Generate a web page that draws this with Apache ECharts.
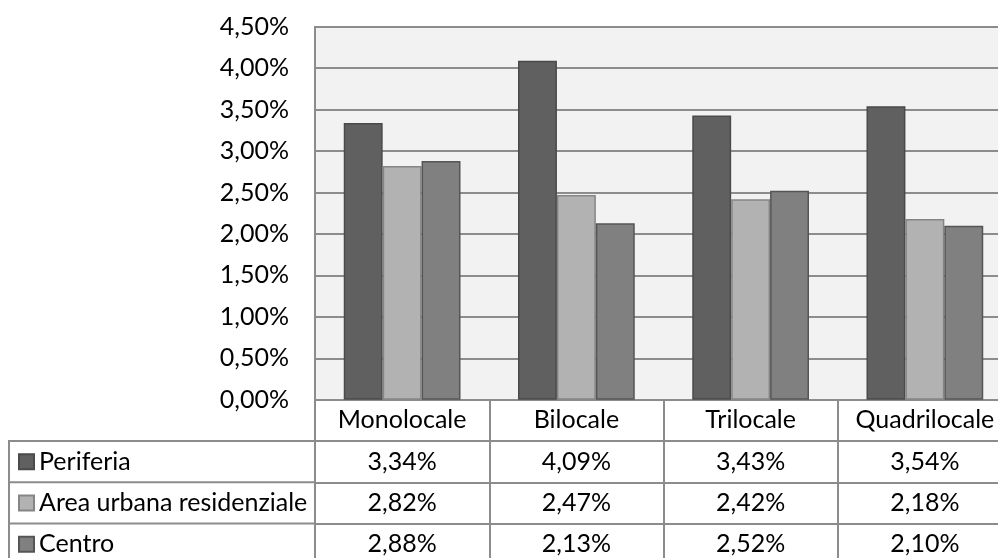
<!DOCTYPE html>
<html>
<head>
<meta charset="utf-8">
<script src="https://cdn.jsdelivr.net/npm/echarts@6/dist/echarts.min.js"></script>
<style>html,body{margin:0;padding:0;background:#fff;overflow:hidden}#c{width:998px;height:558px}</style>
</head>
<body>
<div id="c"></div>
<script>
const categories = ['Monolocale', 'Bilocale', 'Trilocale', 'Quadrilocale'];
const seriesNames = ['Periferia', 'Area urbana residenziale', 'Centro'];
const periferia = [3.34, 4.09, 3.43, 3.54];
const areaUrbana = [2.82, 2.47, 2.42, 2.18];
const centro = [2.88, 2.13, 2.52, 2.10];
const yTicks = [0, 0.5, 1, 1.5, 2, 2.5, 3, 3.5, 4, 4.5];

const FONT = 'Lato';
const FS = 25;
const LINE = '#8c8c8c';
const fmt = v => v.toFixed(2).replace('.', ',') + '%';
const values = [periferia, areaUrbana, centro];
const colors = ['#606060', '#b2b2b2', '#808080'];
const borders = ['#4a4a4a', '#858585', '#555555'];

const chart = echarts.init(document.getElementById('c'));
const ROW = 41.3;
const tableAxis = (k) => ({
  type: 'category', data: categories, gridIndex: 0, position: 'bottom',
  offset: ROW * (k + 1),
  axisLine: { show: true, lineStyle: { color: LINE, width: 2 } },
  axisTick: { show: false },
  axisLabel: { margin: 8, fontFamily: FONT, fontSize: FS, color: '#000', interval: 0,
    formatter: (v, i) => fmt(values[k][i]) }
});
chart.setOption({
  animation: false,
  backgroundColor: '#fff',
  grid: { left: 315, top: 26.7, height: 373.1, width: 697, outerBoundsMode: 'none', containLabel: false,
    show: true, backgroundColor: '#f2f2f2', borderWidth: 0 },
  legend: {
    orient: 'vertical', left: 18, top: 449.2, padding: 0,
    itemWidth: 15, itemHeight: 15, itemGap: ROW - 25,
    icon: 'rect', selectedMode: false,
    textStyle: { fontFamily: FONT, fontSize: FS, lineHeight: 25, color: '#000' },
    data: seriesNames
  },
  xAxis: [
    {
      type: 'category', data: categories,
      axisLine: { show: true, lineStyle: { color: LINE, width: 2 } },
      axisTick: { show: true, length: 160, interval: 0, lineStyle: { color: LINE, width: 2 } },
      axisLabel: { margin: 8, fontFamily: FONT, fontSize: FS, color: '#000', interval: 0 }
    },
    tableAxis(0), tableAxis(1), tableAxis(2)
  ],
  yAxis: {
    type: 'value', min: yTicks[0] , max: yTicks[yTicks.length - 1], interval: 0.5,
    axisLine: { show: true, lineStyle: { color: LINE, width: 2 } },
    axisTick: { show: false },
    splitLine: { show: true, lineStyle: { color: LINE, width: 2 } },
    axisLabel: { margin: 26, fontFamily: FONT, fontSize: FS, color: '#000', formatter: v => fmt(v) }
  },
  series: seriesNames.map((n, k) => ({
    name: n, type: 'bar', data: values[k],
    barGap: '0%', barCategoryGap: '33%',
    itemStyle: { color: colors[k], borderColor: borders[k], borderWidth: 1.5 }
  })),
  graphic: [
    { type: 'line', shape: { x1: 9, y1: 441, x2: 315, y2: 441 }, style: { stroke: LINE, lineWidth: 2 } },
    { type: 'line', shape: { x1: 9, y1: 482.3, x2: 315, y2: 482.3 }, style: { stroke: LINE, lineWidth: 2 } },
    { type: 'line', shape: { x1: 9, y1: 523.6, x2: 315, y2: 523.6 }, style: { stroke: LINE, lineWidth: 2 } },
    { type: 'line', shape: { x1: 9, y1: 440, x2: 9, y2: 558 }, style: { stroke: LINE, lineWidth: 2 } }
  ]
});
</script>
</body>
</html>
